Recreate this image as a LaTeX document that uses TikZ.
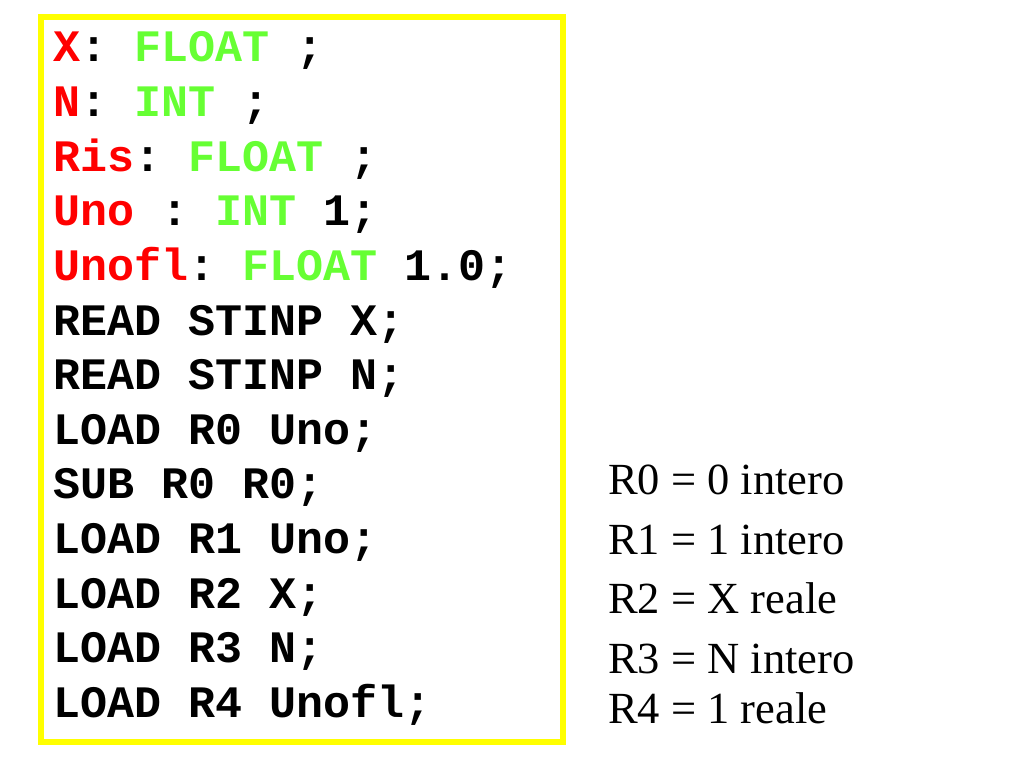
\documentclass[tikz,border=0pt]{standalone}
\usepackage{fontspec}
\setmainfont{Liberation Serif}
\setmonofont{Liberation Mono}
\definecolor{varred}{HTML}{FF0000}
\definecolor{typegreen}{HTML}{66FF33}
\definecolor{boxyellow}{HTML}{FFFF00}
\tikzset{
  code/.style={anchor=base west, inner sep=0pt, font=\fontsize{45}{45}\selectfont\ttfamily\bfseries},
  note/.style={anchor=base west, inner sep=0pt, font=\fontsize{44.5}{44.5}\selectfont}
}
\begin{document}
\frenchspacing
\begin{tikzpicture}[x=1pt, y=-1pt]
  \useasboundingbox (0,0) rectangle (1024,768);

  \draw [boxyellow, line width=5.5pt] (41,17) rectangle (563,742);

  % declarations
  \node [code] (decx) at (53,62) {\textcolor{varred}{X}: \textcolor{typegreen}{FLOAT} ;};
  \node [code] (decn) at (53,116.6) {\textcolor{varred}{N}: \textcolor{typegreen}{INT} ;};
  \node [code] (decris) at (53,171.2) {\textcolor{varred}{Ris}: \textcolor{typegreen}{FLOAT} ;};
  \node [code] (decuno) at (53,225.8) {\textcolor{varred}{Uno} : \textcolor{typegreen}{INT} 1;};
  \node [code] (decunofl) at (53,280.4) {\textcolor{varred}{Unofl}: \textcolor{typegreen}{FLOAT} 1.0;};

  % instructions
  \node [code] (readx) at (53,335) {READ STINP X;};
  \node [code] (readn) at (53,389.6) {READ STINP N;};
  \node [code] (loadzero) at (53,444.2) {LOAD R0 Uno;};
  \node [code] (subzero) at (53,498.8) {SUB R0 R0;};
  \node [code] (loadone) at (53,553.4) {LOAD R1 Uno;};
  \node [code] (loadtwo) at (53,608) {LOAD R2 X;};
  \node [code] (loadthree) at (53,662.6) {LOAD R3 N;};
  \node [code] (loadfour) at (53,717.2) {LOAD R4 Unofl;};

  % registers
  \node [note] (regzero) at (608,494) {R0 = 0 intero};
  \node [note] (regone) at (608,554) {R1 = 1 intero};
  \node [note] (regtwo) at (608,613) {R2 = X reale};
  \node [note] (regthree) at (608,673) {R3 = N intero};
  \node [note] (regfour) at (608,723) {R4 = 1 reale};

\end{tikzpicture}
\end{document}
